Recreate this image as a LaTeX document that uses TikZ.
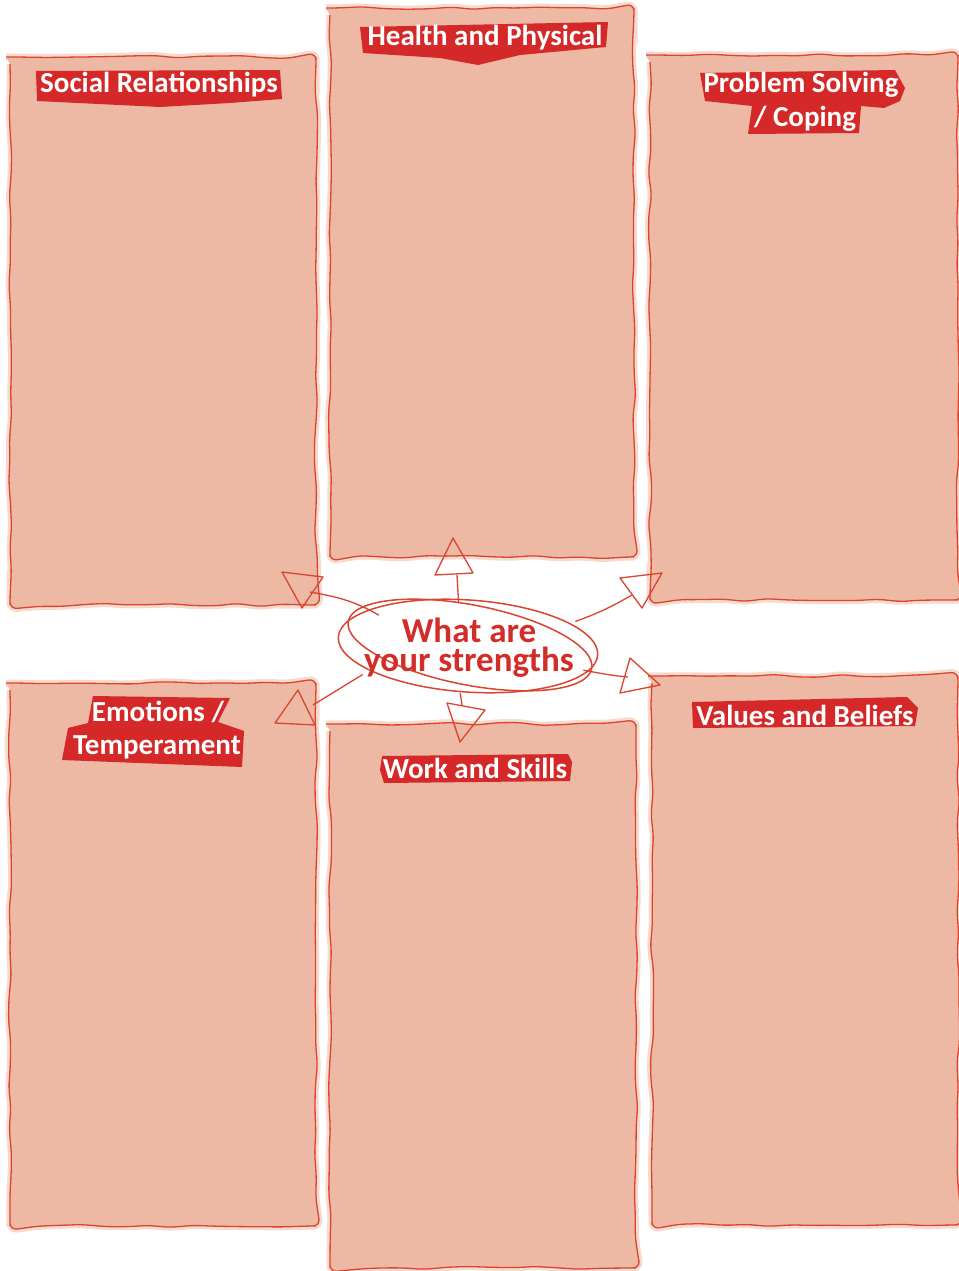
\documentclass[tikz,border=0pt]{standalone}
\usepackage{fontspec}
\setmainfont{Carlito}
\usetikzlibrary{shapes.geometric,decorations.pathmorphing}
\definecolor{boxfill}{RGB}{237,185,165}
\definecolor{boxline}{RGB}{218,68,48}
\definecolor{glow}{RGB}{246,218,206}
\definecolor{labred}{RGB}{213,40,40}
\definecolor{ctext}{RGB}{210,45,40}
\tikzset{
  panel/.style={fill=boxfill, draw=boxline, line width=1.3pt,
    decorate, decoration={random steps, segment length=22pt, amplitude=1.6pt},
    rounded corners=7pt},
  panelglow/.style={draw=glow, line width=7pt,
    decorate, decoration={random steps, segment length=22pt, amplitude=1.6pt},
    rounded corners=7pt},
  tag/.style={fill=labred, draw=none},
  tagtext/.style={text=white, font=\fontsize{29}{30}\selectfont\bfseries, inner sep=0pt},
  centertext/.style={text=ctext, font=\fontsize{35}{29}\selectfont\bfseries, align=center},
  ring/.style={draw=boxline, line width=1.5pt},
  conn/.style={draw=boxline, line width=1.3pt},
  headtri/.style={draw=boxline, line width=1.3pt, line join=round}
}
\begin{document}
\begin{tikzpicture}[x=1pt,y=-1pt]
\useasboundingbox (0,0) rectangle (958,1271);
\fill[white] (0,0) rectangle (958,1271);
\pgfmathsetseed{7}
% panels
\foreach \xa/\ya/\xb/\yb in {10/57/316/605, 330/8/634/557, 650/55/958/600, 10/683/316/1226, 330/724/636/1268, 652/676/958/1225}{
  \path[panelglow] (\xa,\ya) rectangle (\xb,\yb);
}
\pgfmathsetseed{7}
\foreach \xa/\ya/\xb/\yb in {10/57/316/605, 330/8/634/557, 650/55/958/600, 10/683/316/1226, 330/724/636/1268, 652/676/958/1225}{
  \path[panel] (\xa,\ya) rectangle (\xb,\yb);
}
% tags
\fill[tag] (36,71) -- (280,70) -- (282,99) -- (230,103) -- (160,107) -- (37,101) -- cycle;
\fill[tag] (360,27) -- (608,22) -- (606,47) -- (520,55) -- (478,65) -- (440,58) -- (363,53) -- cycle;
\fill[tag] (700,73) -- (895,70) -- (905,88) -- (900,101) -- (884,108) -- (861,106) -- (859,133) -- (748,134) -- (752,106) -- (705,101) -- cycle;
\fill[tag] (93,696) -- (230,698) -- (218,722) -- (244,731) -- (242,767) -- (62,760) -- (68,728) -- (88,723) -- cycle;
\fill[tag] (692,702) -- (907,697) -- (918,708) -- (915,726) -- (693,728) -- cycle;
\fill[tag] (382,756) -- (568,754) -- (572,762) -- (570,781) -- (384,783) -- (380,770) -- cycle;
\node[tagtext] (t1) at (159,85) {Social Relationships};
\node[tagtext] (t2) at (485,38) {Health and Physical};
\node[tagtext] (t3) at (801,85) {Problem Solving};
\node[tagtext] (t3b) at (805,119) {/ Coping};
\node[tagtext] (t4) at (158,712) {Emotions /};
\node[tagtext] (t4b) at (157,747) {Temperament};
\node[tagtext] (t5) at (475,768) {Work and Skills};
\node[tagtext] (t6) at (805,715) {Values and Beliefs};
% centre
\draw[ring, rotate around={-4:(468,646)}] (468,646) ellipse [x radius=130, y radius=46];
\draw[ring, rotate around={-11:(470,645)}] (470,645) ellipse [x radius=124, y radius=40];
\node[ellipse, centertext, inner xsep=-12pt, inner ysep=2pt] (c) at (469,648) {What are\\your strengths};
% arrow ends
\coordinate (e1) at (457,575);
\coordinate (e2) at (310,592);
\coordinate (e3) at (632,595);
\coordinate (e4) at (628,677);
\coordinate (e5) at (462,705);
\coordinate (e6) at (313,705);
\draw[conn] (c.103) -- (e1);
\draw[conn] (c.160) to[out=150,in=-10] (e2);
\draw[conn] (c.14) to[out=20,in=-150] (e3);
\draw[conn] (c.-11) to[out=-10,in=175] (e4);
\draw[conn] (c.-101) -- (e5);
\draw[conn] (c.-166) -- (e6);
% open heads
\draw[headtri] (435,575) -- (473,573) -- (453,538) -- cycle;
\draw[headtri] (282,572) -- (323,577) -- (302,608) -- cycle;
\draw[headtri] (620,578) -- (662,573) -- (642,608) -- cycle;
\draw[headtri] (630,658) -- (660,685) -- (620,693) -- cycle;
\draw[headtri] (447,703) -- (485,710) -- (460,742) -- cycle;
\draw[headtri] (298,690) -- (275,723) -- (315,725) -- cycle;
\end{tikzpicture}
\end{document}
